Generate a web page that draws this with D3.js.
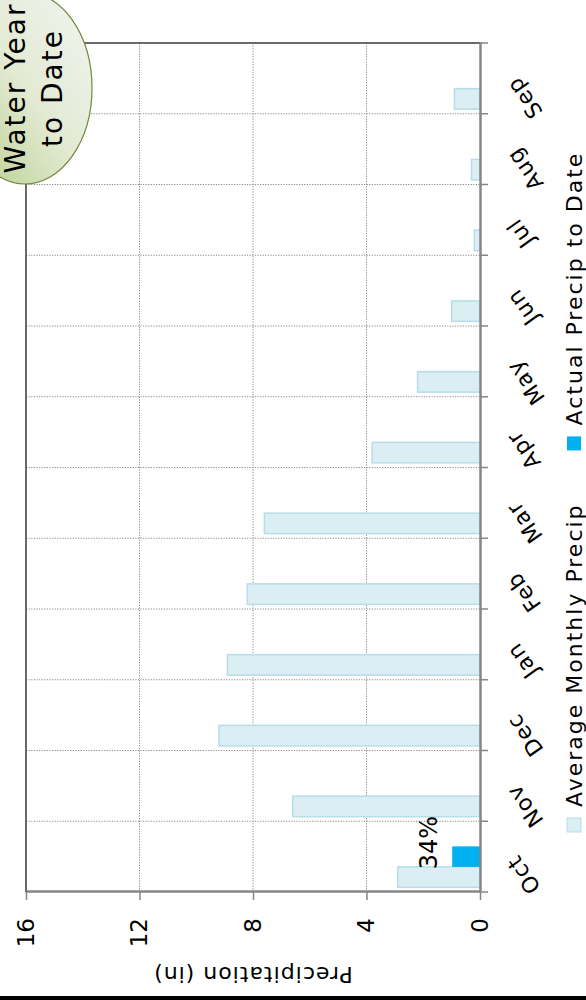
<!DOCTYPE html>
<html>
<head>
<meta charset="utf-8">
<script src="https://cdn.jsdelivr.net/npm/d3@7"></script>
<style>
	html, body { margin: 0; padding: 0; background: #fff; }
	svg { display: block; font-family: "DejaVu Sans", sans-serif; }
</style>
</head>
<body>
<svg id="chart" width="586" height="1000"></svg>
<script>
// data (inches)
const months = ["Oct", "Nov", "Dec", "Jan", "Feb", "Mar", "Apr", "May", "Jun", "Jul", "Aug", "Sep"];
const avgPrecip = [2.9, 6.6, 9.2, 8.9, 8.2, 7.6, 3.8, 2.2, 1.0, 0.2, 0.3, 0.9];
const actualPrecip = [0.98, null, null, null, null, null, null, null, null, null, null, null];
const pctLabels = ["34%", null, null, null, null, null, null, null, null, null, null, null];
const valueTicks = [0, 4, 8, 12, 16];
const seriesNames = ["Average Monthly Precip", "Actual Precip to Date"];
const seriesColors = [{ fill: "#dbeef4", stroke: "#b7dde8" }, { fill: "#00b0f0", stroke: "none" }];
const calloutLines = ["Water Year", "to Date"];

// the chart is drawn in its own landscape frame, then turned a quarter left
const W = 1000, H = 586;
const plot = { left: 108, right: 957, top: 26, bottom: 480 };

const svg = d3.select("#chart");
const defs = svg.append("defs");
const grad = defs.append("linearGradient")
	.attr("id", "callout-fill")
	.attr("x1", 0).attr("y1", 0).attr("x2", 1).attr("y2", 1);
grad.append("stop").attr("offset", "0%").attr("stop-color", "#b5cc88");
grad.append("stop").attr("offset", "50%").attr("stop-color", "#e2ead3");
grad.append("stop").attr("offset", "100%").attr("stop-color", "#f4f4f2");

const g = svg.append("g").attr("transform", `translate(0,${W}) rotate(-90)`);

const x = d3.scaleBand().domain(months).range([plot.left, plot.right]);
const xs = d3.scaleBand().domain(["avg", "actual", "spare"])
	.range([0, x.bandwidth()]).paddingInner(0).paddingOuter(0.225);
const y = d3.scaleLinear().domain([0, 16]).range([plot.bottom, plot.top]);

// outer chart border (only its left edge is in view)
g.append("line")
	.attr("x1", 2).attr("x2", 2).attr("y1", 0).attr("y2", H)
	.style("stroke", "#000").style("stroke-width", 4);

// gridlines
const boundaries = months.map((m) => x(m)).concat(plot.right);
const gridStyle = (sel) => sel
	.style("stroke", "#8a8a8a").style("stroke-width", 1)
	.style("stroke-dasharray", "1.2 1.4");

g.append("g").selectAll("line")
	.data(boundaries.slice(1, -1))
	.join("line")
	.attr("x1", (d) => d).attr("x2", (d) => d)
	.attr("y1", plot.top).attr("y2", plot.bottom)
	.call(gridStyle);

g.append("g").selectAll("line")
	.data(valueTicks.filter((v) => v > 0 && v < 16))
	.join("line")
	.attr("x1", plot.left).attr("x2", plot.right)
	.attr("y1", (d) => y(d)).attr("y2", (d) => y(d))
	.call(gridStyle);

// plot area border
g.append("path")
	.attr("d", `M${plot.left},${y(16)}H${plot.right}V${plot.bottom}`)
	.style("fill", "none").style("stroke", "#3a3a3a").style("stroke-width", 1.5);

// bars
g.append("g").selectAll("rect")
	.data(months.map((m, i) => ({ m, v: avgPrecip[i] })))
	.join("rect")
	.attr("x", (d) => x(d.m) + xs("avg"))
	.attr("width", xs.bandwidth())
	.attr("y", (d) => y(d.v))
	.attr("height", (d) => y(0) - y(d.v))
	.style("fill", seriesColors[0].fill)
	.style("stroke", seriesColors[0].stroke)
	.style("stroke-width", 1.5);

const actualData = months.map((m, i) => ({ m, v: actualPrecip[i], label: pctLabels[i] }))
	.filter((d) => d.v != null);

g.append("g").selectAll("rect")
	.data(actualData)
	.join("rect")
	.attr("x", (d) => x(d.m) + xs("actual"))
	.attr("width", xs.bandwidth())
	.attr("y", (d) => y(d.v))
	.attr("height", (d) => y(0) - y(d.v))
	.style("fill", seriesColors[1].fill);

g.append("g").selectAll("text")
	.data(actualData.filter((d) => d.label))
	.join("text")
	.attr("x", (d) => x(d.m) + xs("actual") + xs.bandwidth() / 2 + 14)
	.attr("y", (d) => y(d.v) - 15)
	.attr("text-anchor", "middle")
	.style("font-size", "24px")
	.style("fill", "#000")
	.text((d) => d.label);

// value axis
const yAxis = g.append("g")
	.attr("transform", `translate(${plot.left},0)`)
	.call(d3.axisLeft(y).tickValues(valueTicks).tickSize(8).tickSizeOuter(0).tickPadding(18));
yAxis.select(".domain").style("stroke", "#868686").style("stroke-width", 2.5);
yAxis.selectAll(".tick line").style("stroke", "#868686").style("stroke-width", 1.5);
yAxis.selectAll("text")
	.style("font-size", "23px").style("fill", "#000").style("font-family", "DejaVu Sans");

// category axis
const xAxis = g.append("g")
	.attr("transform", `translate(0,${plot.bottom})`)
	.call(d3.axisBottom(x).tickSize(0).tickSizeOuter(0));
xAxis.select(".domain").style("stroke", "#868686").style("stroke-width", 2.5);
xAxis.selectAll("text")
	.attr("y", 0).attr("dy", null)
	.attr("text-anchor", "end")
	.attr("transform", "translate(3,38) rotate(-35)")
	.style("font-size", "22px").style("letter-spacing", "1px")
	.style("fill", "#000").style("font-family", "DejaVu Sans");

xAxis.selectAll(".boundary")
	.data(boundaries)
	.join("line")
	.attr("class", "boundary")
	.attr("x1", (d) => d).attr("x2", (d) => d)
	.attr("y1", 0).attr("y2", 8)
	.style("stroke", "#868686").style("stroke-width", 1.5);

// axis title
g.append("text")
	.attr("transform", `translate(33,${(plot.top + plot.bottom) / 2}) rotate(-90)`)
	.attr("text-anchor", "middle")
	.style("font-size", "22px").style("letter-spacing", "1px")
	.style("fill", "#000")
	.text("Precipitation (in)");

// legend
const legend = g.append("g");
let cursor = 168;
seriesNames.forEach((name, i) => {
	legend.append("rect")
		.attr("x", cursor).attr("y", 567)
		.attr("width", 14).attr("height", 14)
		.style("fill", seriesColors[i].fill)
		.style("stroke", seriesColors[i].stroke)
		.style("stroke-width", 1);
	const t = legend.append("text")
		.attr("x", cursor + 25).attr("y", 582)
		.style("font-size", "22px").style("letter-spacing", "2px")
		.style("fill", "#000")
		.text(name);
	cursor += 25 + t.node().getComputedTextLength() + 53;
});

// "Water Year to Date" callout
g.append("ellipse")
	.attr("cx", 912).attr("cy", 25).attr("rx", 96).attr("ry", 67)
	.style("fill", "url(#callout-fill)")
	.style("stroke", "#6f8a3a").style("stroke-width", 1.2);

g.append("g").selectAll("text")
	.data(calloutLines)
	.join("text")
	.attr("x", 912)
	.attr("y", (d, i) => 25 + i * 37)
	.attr("text-anchor", "middle")
	.style("font-size", "28px").style("letter-spacing", "2px")
	.style("fill", "#000")
	.text((d) => d);
</script>
</body>
</html>
